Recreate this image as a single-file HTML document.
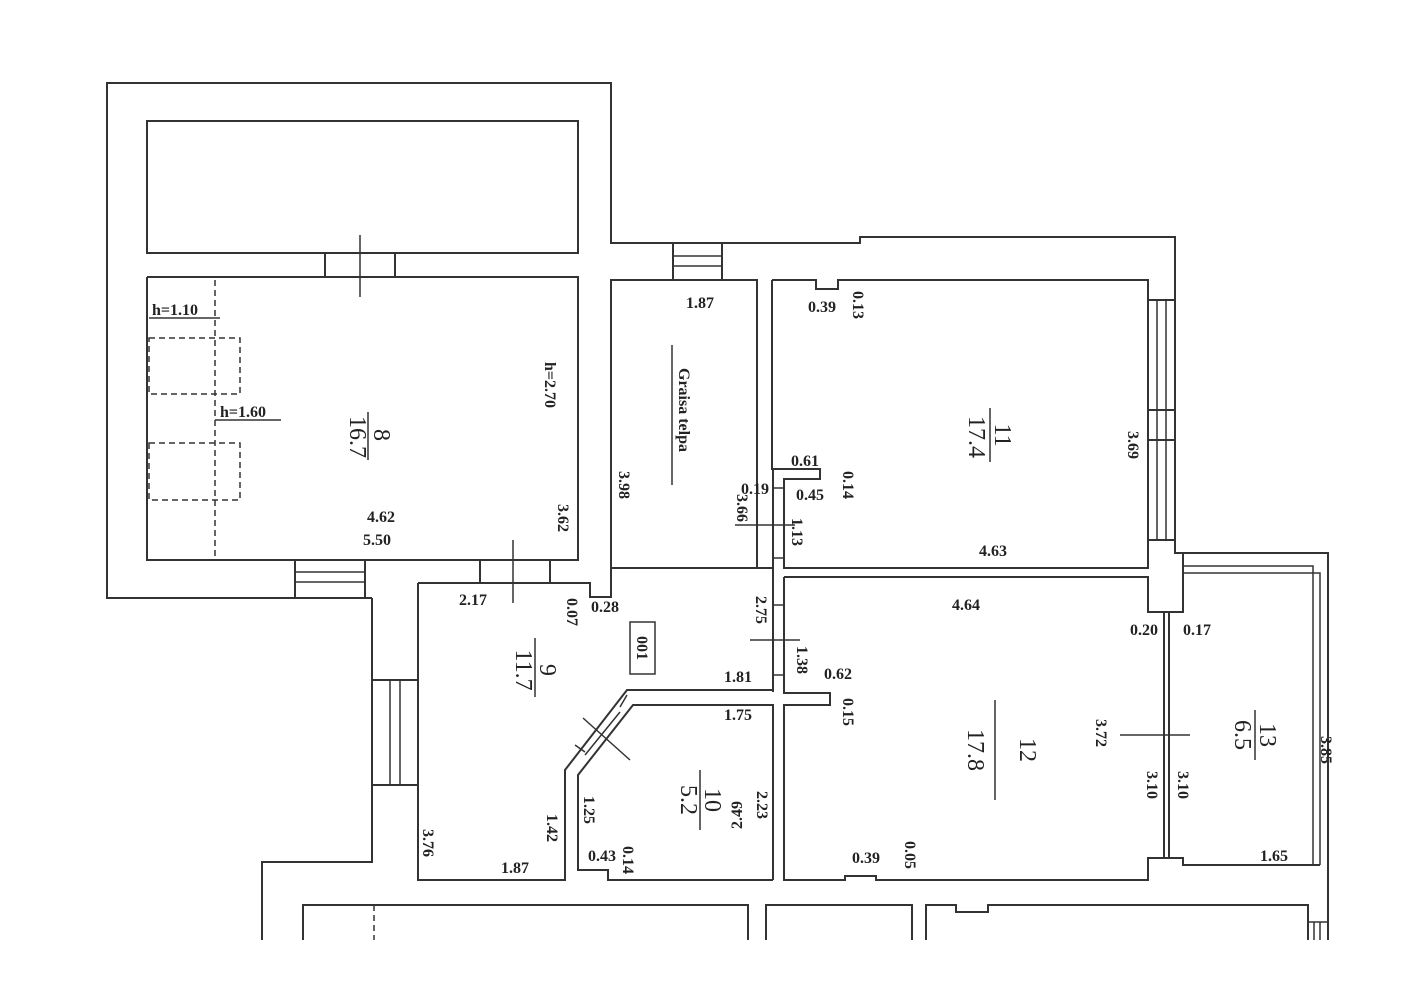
<!DOCTYPE html>
<html><head><meta charset="utf-8"><style>
html,body{margin:0;padding:0;background:#fff;}
svg{display:block}
text{font-family:"Liberation Serif",serif;font-weight:bold;font-size:16px;fill:#222;}
.big{font-size:24px;font-weight:normal;}
</style></head><body>
<svg width="1428" height="986" viewBox="0 0 1428 986" xmlns="http://www.w3.org/2000/svg">
<g fill="none" stroke="#333" stroke-width="2">
<polyline points="372,598 107,598 107,83 611,83 611,243 860,243 860,237 1175,237 1175,553 1328,553 1328,940"/>
<rect x="147" y="121" width="431" height="132"/>
<polyline points="147,277 578,277 578,560 147,560 147,277"/>
<line x1="325" y1="253" x2="325" y2="277"/><line x1="395" y1="253" x2="395" y2="277"/>
<line x1="360" y1="235" x2="360" y2="297" stroke-width="1.5"/>
<line x1="295" y1="560" x2="295" y2="598"/><line x1="365" y1="560" x2="365" y2="598"/>
<line x1="295" y1="572" x2="365" y2="572" stroke-width="1.5"/><line x1="295" y1="582" x2="365" y2="582" stroke-width="1.5"/>
<line x1="480" y1="560" x2="480" y2="583"/><line x1="550" y1="560" x2="550" y2="583"/>
<line x1="513" y1="540" x2="513" y2="603" stroke-width="1.5"/>
<rect x="611" y="280" width="146" height="288"/>
<line x1="673" y1="243" x2="673" y2="280"/><line x1="722" y1="243" x2="722" y2="280"/>
<line x1="673" y1="256" x2="722" y2="256" stroke-width="1.5"/><line x1="673" y1="266" x2="722" y2="266" stroke-width="1.5"/>
<polyline points="372,598 372,862 262,862 262,940"/>
<polyline points="418,583 590,583 590,597 611,597 611,568"/>
<polyline points="418,583 418,880 565,880 565,770 627,690 773,690"/>
<line x1="372" y1="680" x2="418" y2="680"/><line x1="372" y1="785" x2="418" y2="785"/>
<line x1="390" y1="680" x2="390" y2="785" stroke-width="1.5"/><line x1="400" y1="680" x2="400" y2="785" stroke-width="1.5"/>
<polyline points="773,705 633,705 578,775 578,870 608,870 608,880 773,880"/>
<line x1="585" y1="752" x2="575" y2="745" stroke-width="1.5"/>
<line x1="627" y1="695" x2="620" y2="707" stroke-width="1.5"/>
<line x1="583" y1="718" x2="630" y2="760" stroke-width="1.5"/>
<line x1="620" y1="712" x2="585" y2="755" stroke-width="1.5"/>
<polyline points="773,692 773,469"/>
<line x1="757" y1="568" x2="773" y2="568"/>
<polyline points="773,704 773,880"/>
<polyline points="772,280 772,469 820,469 820,479 784,479 784,568 1148,568 1148,280 838,280 838,289 816,289 816,280 772,280"/>
<line x1="773" y1="488" x2="784" y2="488" stroke-width="1.5"/><line x1="773" y1="558" x2="784" y2="558" stroke-width="1.5"/>
<line x1="773" y1="605" x2="784" y2="605" stroke-width="1.5"/><line x1="773" y1="675" x2="784" y2="675" stroke-width="1.5"/>
<line x1="735" y1="525" x2="795" y2="525" stroke-width="1.5"/>
<line x1="750" y1="640" x2="800" y2="640" stroke-width="1.5"/>
<line x1="1148" y1="300" x2="1175" y2="300"/><line x1="1148" y1="540" x2="1175" y2="540"/>
<line x1="1157" y1="300" x2="1157" y2="540" stroke-width="1.5"/><line x1="1166" y1="300" x2="1166" y2="540" stroke-width="1.5"/>
<line x1="1148" y1="410" x2="1175" y2="410"/><line x1="1148" y1="440" x2="1175" y2="440"/>
<polyline points="784,577 1148,577 1148,612 1183,612 1183,553"/>
<polyline points="784,577 784,693 830,693 830,705 784,705 784,880 845,880 845,876 876,876 876,880 1148,880 1148,858 1183,858 1183,865 1320,865"/>
<line x1="1164" y1="612" x2="1164" y2="858" stroke-width="2"/><line x1="1169" y1="612" x2="1169" y2="858" stroke-width="2"/>
<line x1="1120" y1="735" x2="1190" y2="735" stroke-width="1.5"/>
<polyline points="1183,573 1320,573 1320,865" stroke-width="1.5"/>
<polyline points="1183,566 1313,566 1313,865" stroke-width="1.5"/>
<polyline points="303,940 303,905 748,905 748,940"/>
<line x1="374" y1="905" x2="374" y2="940" stroke-dasharray="6,4" stroke-width="1.5"/>
<polyline points="766,940 766,905 912,905 912,940"/>
<polyline points="926,940 926,905 956,905 956,912 988,912 988,905 1308,905 1308,940"/>
<line x1="1308" y1="922" x2="1328" y2="922" stroke-width="1.5"/>
<line x1="1314" y1="922" x2="1314" y2="940" stroke-width="1.5"/><line x1="1320" y1="922" x2="1320" y2="940" stroke-width="1.5"/>
</g>
<g fill="none" stroke="#333" stroke-width="1.5" stroke-dasharray="6,4">
<line x1="215" y1="280" x2="215" y2="560"/>
<rect x="149" y="338" width="91" height="56"/>
<rect x="149" y="443" width="91" height="57"/>
</g>
<g stroke="#333" stroke-width="1.5">
<line x1="149" y1="318" x2="220" y2="318"/><line x1="215" y1="420" x2="281" y2="420"/>
<line x1="368" y1="412" x2="368" y2="460"/>
<line x1="672" y1="345" x2="672" y2="485"/>
<line x1="990" y1="408" x2="990" y2="462"/>
<line x1="535" y1="638" x2="535" y2="697"/>
<line x1="700" y1="770" x2="700" y2="830"/>
<line x1="995" y1="700" x2="995" y2="800"/>
<line x1="1255" y1="710" x2="1255" y2="760"/>
</g>
<rect x="630" y="622" width="25" height="52" fill="none" stroke="#333" stroke-width="1.5"/>
<g>
<text x="152" y="315">h=1.10</text>
<text x="220" y="417">h=1.60</text>
<text x="381" y="522" text-anchor="middle">4.62</text>
<text x="377" y="545" text-anchor="middle">5.50</text>
<text x="700" y="308" text-anchor="middle">1.87</text>
<text x="822" y="312" text-anchor="middle">0.39</text>
<text x="805" y="466" text-anchor="middle">0.61</text>
<text x="810" y="500" text-anchor="middle">0.45</text>
<text x="755" y="494" text-anchor="middle">0.19</text>
<text x="993" y="556" text-anchor="middle">4.63</text>
<text x="966" y="610" text-anchor="middle">4.64</text>
<text x="1144" y="635" text-anchor="middle">0.20</text>
<text x="1197" y="635" text-anchor="middle">0.17</text>
<text x="838" y="679" text-anchor="middle">0.62</text>
<text x="738" y="682" text-anchor="middle">1.81</text>
<text x="738" y="720" text-anchor="middle">1.75</text>
<text x="1274" y="861" text-anchor="middle">1.65</text>
<text x="866" y="863" text-anchor="middle">0.39</text>
<text x="473" y="605" text-anchor="middle">2.17</text>
<text x="605" y="612" text-anchor="middle">0.28</text>
<text x="515" y="873" text-anchor="middle">1.87</text>
<text x="602" y="861" text-anchor="middle">0.43</text>
</g>
<g>
<text transform="translate(545,385) rotate(90)" text-anchor="middle">h=2.70</text>
<text transform="translate(558,518) rotate(90)" text-anchor="middle">3.62</text>
<text transform="translate(679,410) rotate(90)" text-anchor="middle">Graisa telpa</text>
<text transform="translate(619,485) rotate(90)" text-anchor="middle">3.98</text>
<text transform="translate(737,508) rotate(90)" text-anchor="middle">3.66</text>
<text transform="translate(853,305) rotate(90)" text-anchor="middle">0.13</text>
<text transform="translate(1128,445) rotate(90)" text-anchor="middle">3.69</text>
<text transform="translate(843,485) rotate(90)" text-anchor="middle">0.14</text>
<text transform="translate(792,532) rotate(90)" text-anchor="middle">1.13</text>
<text transform="translate(756,610) rotate(90)" text-anchor="middle">2.75</text>
<text transform="translate(797,660) rotate(90)" text-anchor="middle">1.38</text>
<text transform="translate(843,712) rotate(90)" text-anchor="middle">0.15</text>
<text transform="translate(1096,733) rotate(90)" text-anchor="middle">3.72</text>
<text transform="translate(1147,785) rotate(90)" text-anchor="middle">3.10</text>
<text transform="translate(1178,785) rotate(90)" text-anchor="middle">3.10</text>
<text transform="translate(1321,750) rotate(90)" text-anchor="middle">3.85</text>
<text transform="translate(905,855) rotate(90)" text-anchor="middle">0.05</text>
<text transform="translate(567,612) rotate(90)" text-anchor="middle">0.07</text>
<text transform="translate(637,648) rotate(90)" text-anchor="middle">001</text>
<text transform="translate(423,843) rotate(90)" text-anchor="middle">3.76</text>
<text transform="translate(547,828) rotate(90)" text-anchor="middle">1.42</text>
<text transform="translate(584,810) rotate(90)" text-anchor="middle">1.25</text>
<text transform="translate(757,805) rotate(90)" text-anchor="middle">2.23</text>
<text transform="translate(742,815) rotate(-90)" text-anchor="middle">2.49</text>
<text transform="translate(623,860) rotate(90)" text-anchor="middle">0.14</text>
</g>
<g>
<text class="big" transform="translate(374,435) rotate(90)" text-anchor="middle">8</text>
<text class="big" transform="translate(350,437) rotate(90)" text-anchor="middle">16.7</text>
<text class="big" transform="translate(995,435) rotate(90)" text-anchor="middle">11</text>
<text class="big" transform="translate(969,437) rotate(90)" text-anchor="middle">17.4</text>
<text class="big" transform="translate(540,670) rotate(90)" text-anchor="middle">9</text>
<text class="big" transform="translate(516,670) rotate(90)" text-anchor="middle">11.7</text>
<text class="big" transform="translate(705,800) rotate(90)" text-anchor="middle">10</text>
<text class="big" transform="translate(681,800) rotate(90)" text-anchor="middle">5.2</text>
<text class="big" transform="translate(1020,750) rotate(90)" text-anchor="middle">12</text>
<text class="big" transform="translate(968,750) rotate(90)" text-anchor="middle">17.8</text>
<text class="big" transform="translate(1260,735) rotate(90)" text-anchor="middle">13</text>
<text class="big" transform="translate(1235,735) rotate(90)" text-anchor="middle">6.5</text>
</g>
</svg>
</body></html>
